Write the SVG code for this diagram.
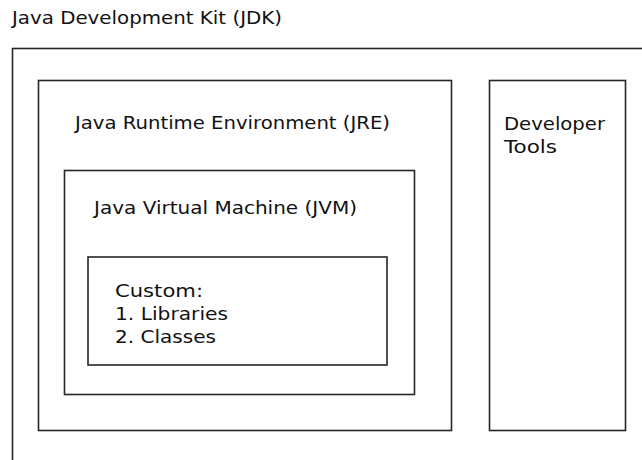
<svg xmlns="http://www.w3.org/2000/svg" width="642" height="460" viewBox="0 0 642 460">
<style>
.box{fill:none;stroke:#262626;stroke-width:1.6}
.t{font-family:"DejaVu Sans","Liberation Sans",sans-serif;font-size:18.5px;fill:#111}
</style>
<rect width="642" height="460" fill="#fff"/>
<g id="jdk">
<text class="t" x="12" y="24" textLength="270" lengthAdjust="spacingAndGlyphs">Java Development Kit (JDK)</text>
<rect class="box" x="12.5" y="48.5" width="700" height="500"/>
</g>
<g id="jre">
<rect class="box" x="38.5" y="80.5" width="413" height="350"/>
<text class="t" x="75" y="129" textLength="315" lengthAdjust="spacingAndGlyphs">Java Runtime Environment (JRE)</text>
</g>
<g id="jvm">
<rect class="box" x="64.5" y="170.5" width="350" height="224"/>
<text class="t" x="94" y="214" textLength="263" lengthAdjust="spacingAndGlyphs">Java Virtual Machine (JVM)</text>
</g>
<g id="custom">
<rect class="box" x="88" y="257" width="299" height="108"/>
<text class="t" x="115" y="296.5" textLength="88" lengthAdjust="spacingAndGlyphs">Custom:</text>
<text class="t" x="115" y="319.5" textLength="113" lengthAdjust="spacingAndGlyphs">1. Libraries</text>
<text class="t" x="115" y="342.5" textLength="101" lengthAdjust="spacingAndGlyphs">2. Classes</text>
</g>
<g id="devtools">
<rect class="box" x="489.5" y="80.5" width="136" height="350"/>
<text class="t" x="504" y="130" textLength="101" lengthAdjust="spacingAndGlyphs">Developer</text>
<text class="t" x="504" y="153" textLength="53" lengthAdjust="spacingAndGlyphs">Tools</text>
</g>
<g id="connectors"></g>
</svg>
